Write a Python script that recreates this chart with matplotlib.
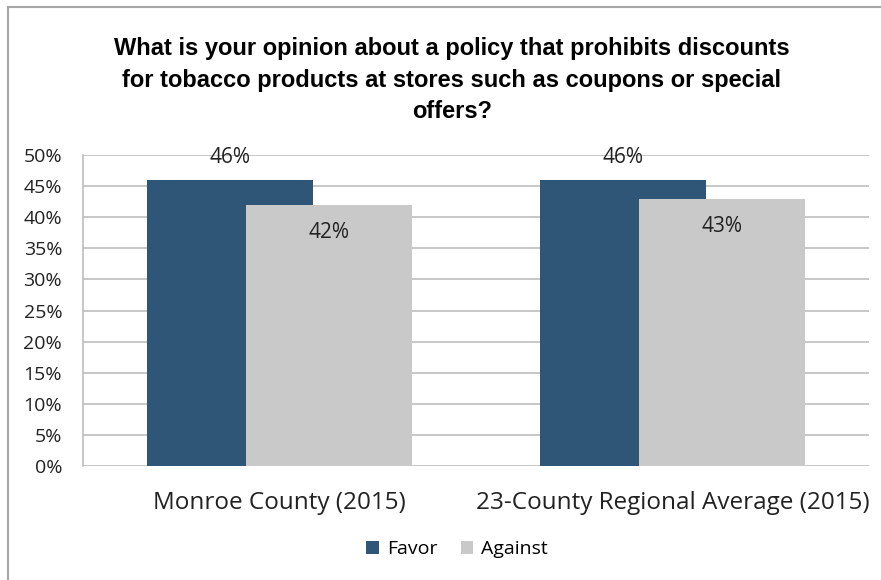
import matplotlib
matplotlib.use('Agg')
import matplotlib.pyplot as plt
import numpy as np
from matplotlib.patches import Rectangle

categories = ['Monroe County (2015)', '23-County Regional Average (2015)']
favor = [46, 46]
against = [42, 43]
series_names = ['Favor', 'Against']
yticks = [0, 5, 10, 15, 20, 25, 30, 35, 40, 45, 50]

favor_color = '#2F5677'
against_color = '#C9C9C9'
grid_color = '#BDBDBD'

plt.rcParams['font.family'] = ['Open Sans', 'DejaVu Sans']

fig = plt.figure(figsize=(8.81, 5.80), dpi=100)
fig.patch.set_facecolor('white')

# outer frame, only top and left edges show
fig.patches.append(Rectangle((8 / 881, -0.1), 1.2, 1 - 7 / 580 + 0.1, transform=fig.transFigure,
                             fill=False, edgecolor='#A6A6A6', linewidth=1.5))

ax = fig.add_axes([83 / 881, 114 / 580, 786 / 881, 311 / 580])

x = np.arange(len(categories))
width = 0.422
offset = 0.127
ax.bar(x - offset, favor, width, color=favor_color, label=series_names[0], zorder=2)
ax.bar(x + offset, against, width, color=against_color, label=series_names[1], zorder=3)

for xi, v in zip(x, favor):
    ax.annotate(f'{v}%', (xi - offset, v), xytext=(0, 16), textcoords='offset points',
                ha='center', va='center', fontsize=15, color='#222222', zorder=4)
for xi, v in zip(x, against):
    ax.annotate(f'{v}%', (xi + offset, v), xytext=(0, -20), textcoords='offset points',
                ha='center', va='center', fontsize=15, color='#222222', zorder=4)

ax.set_xlim(-0.5, 1.5)
ax.set_ylim(0, 50)
ax.set_yticks(yticks)
ax.set_yticklabels([f'{t}%' for t in yticks], fontsize=14, color='#222222')
ax.set_xticks(x)
ax.set_xticklabels(categories, fontsize=17.5, color='#222222')
ax.tick_params(axis='y', length=0, pad=15)
ax.tick_params(axis='x', length=0, pad=18)
ax.yaxis.grid(True, color=grid_color, linewidth=1.2, zorder=0)
ax.set_axisbelow(True)
for side in ['top', 'right', 'bottom']:
    ax.spines[side].set_visible(False)
ax.spines['left'].set_color(grid_color)
ax.spines['left'].set_linewidth(1.2)

fig.text(452 / 881, 1 - 80 / 580,
         'What is your opinion about a policy that prohibits discounts\n'
         'for tobacco products at stores such as coupons or special\n'
         'offers?',
         ha='center', va='center', fontsize=17, fontweight='bold',
         family=['Liberation Sans', 'DejaVu Sans'], linespacing=1.48)

fig.legend(loc='center', bbox_to_anchor=(457 / 881, 1 - 549 / 580), ncol=2, frameon=False,
           fontsize=14, handlelength=0.65, handleheight=0.65, handletextpad=0.4, columnspacing=1.2)

fig.savefig('out.png', dpi=100)
